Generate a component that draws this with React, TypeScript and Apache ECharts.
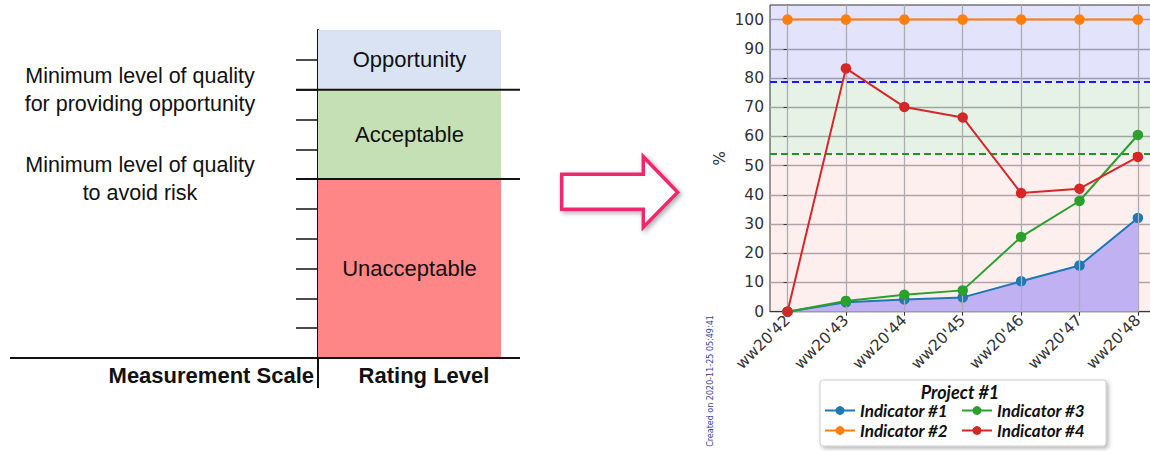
import React, { useEffect, useRef } from "react";
import * as echarts from "echarts";

// ---- right chart data ----
const categories = ["ww20'42", "ww20'43", "ww20'44", "ww20'45", "ww20'46", "ww20'47", "ww20'48"];
const indicator1 = [0, 3.2, 4.2, 4.9, 10.4, 15.8, 32.1];
const indicator2 = [100, 100, 100, 100, 100, 100, 100];
const indicator3 = [0, 3.7, 5.8, 7.3, 25.6, 37.9, 60.5];
const indicator4 = [0, 83.3, 70.1, 66.5, 40.6, 42.1, 53.0];
const opportunityLevel = 78.7;
const riskLevel = 54.1;
const yTicks = [0, 10, 20, 30, 40, 50, 60, 70, 80, 90, 100];
const legendLeft = ["Indicator #1", "Indicator #2"];
const legendRight = ["Indicator #3", "Indicator #4"];

// ---- left diagram data ----
const ratingLevels = ["Unacceptable", "Acceptable", "Opportunity"];
const ratingSpans = [6, 3, 2];
const ratingColors = ["#ff8686", "#c5e0b4", "#dae3f3"];
const scaleTicks = [1, 2, 3, 4, 5, 6, 7, 8, 9, 10];

const SANS = "'Liberation Sans', Arial, sans-serif";
const LEG = "Lato, 'Liberation Sans', sans-serif";

export default function App() {
  const ref = useRef<HTMLDivElement>(null);

  useEffect(() => {
    if (!ref.current) return;
    const chart = echarts.init(ref.current, null, { renderer: "svg" });

    const idx = categories.map((_, i) => i);
    const toPts = (arr: number[]) => arr.map((v, i) => [i, v]);
    const lineSeries = (name: string, data: number[], color: string, extra: any = {}) => ({
      name,
      type: "line",
      xAxisIndex: 0,
      yAxisIndex: 0,
      data: toPts(data),
      symbol: "circle",
      symbolSize: 10.5,
      showSymbol: true,
      itemStyle: { color },
      lineStyle: { color, width: 2 },
      z: 5,
      ...extra,
    });

    const legendText = { fontSize: 17, fontWeight: "bold", fontStyle: "italic", color: "#111", fontFamily: LEG };

    chart.setOption({
      animation: false,
      backgroundColor: "#ffffff",
      grid: [
        { left: 770, top: 5, width: 385.4, height: 306.7, outerBoundsMode: "none", containLabel: false, show: true, borderColor: "#333", borderWidth: 1, backgroundColor: "transparent" },
        { left: 318, top: 30, width: 183, height: 328, outerBoundsMode: "none", containLabel: false },
      ],
      xAxis: [
        {
          type: "value",
          gridIndex: 0,
          min: -0.3,
          max: 6.3,
          axisLine: { show: true, onZero: false, lineStyle: { color: "#333", width: 1 } },
          axisTick: { show: true, customValues: idx, length: 4, lineStyle: { color: "#333" } },
          axisLabel: {
            customValues: idx,
            formatter: (v: number) => categories[Math.round(v)] ?? "",
            rotate: 45,
            fontSize: 15.5,
            color: "#333",
            fontFamily: "'DejaVu Sans', sans-serif",
            margin: 6,
          },
          splitLine: { show: false },
        },
        {
          type: "category",
          gridIndex: 1,
          data: ["rating"],
          axisLine: { show: false },
          axisTick: { show: false },
          axisLabel: { show: false },
        },
      ],
      yAxis: [
        {
          type: "value",
          gridIndex: 0,
          min: 0,
          max: 105,
          interval: 10,
          name: "%",
          nameLocation: "middle",
          nameGap: 43,
          nameTextStyle: { fontSize: 15, color: "#333", fontFamily: "'DejaVu Sans', sans-serif" },
          axisLine: { show: true, lineStyle: { color: "#333", width: 1 } },
          axisTick: { show: true, customValues: yTicks, length: 4, lineStyle: { color: "#333" } },
          axisLabel: { customValues: yTicks, fontSize: 15.5, color: "#333", fontFamily: "'DejaVu Sans', sans-serif", margin: 6 },
          splitLine: { show: true, lineStyle: { color: "#acacb2", width: 1.3 } },
        },
        {
          type: "value",
          gridIndex: 1,
          min: 0,
          max: 11,
          interval: 1,
          axisLine: { show: true, lineStyle: { color: "#111", width: 2 } },
          axisTick: { show: true, customValues: scaleTicks, length: 22, lineStyle: { color: "#111", width: 1.5 } },
          axisLabel: { show: false },
          splitLine: { show: false },
        },
      ],
      legend: [
        {
          data: legendLeft,
          orient: "vertical",
          left: 819,
          top: 397,
          itemWidth: 30,
          itemHeight: 11,
          itemGap: 3,
          z: 60,
          textStyle: legendText,
          selectedMode: false,
        },
        {
          data: legendRight,
          orient: "vertical",
          left: 956,
          top: 397,
          itemWidth: 30,
          itemHeight: 11,
          itemGap: 3,
          z: 60,
          textStyle: legendText,
          selectedMode: false,
        },
      ],
      series: [
        {
          name: "bands",
          type: "line",
          xAxisIndex: 0,
          yAxisIndex: 0,
          data: [],
          z: 1,
          silent: true,
          markArea: {
            silent: true,
            data: [
              [{ yAxis: opportunityLevel, itemStyle: { color: "rgba(60,60,230,0.14)" } }, { yAxis: 105 }],
              [{ yAxis: riskLevel, itemStyle: { color: "rgba(40,140,40,0.11)" } }, { yAxis: opportunityLevel }],
              [{ yAxis: 0, itemStyle: { color: "rgba(240,80,80,0.09)" } }, { yAxis: riskLevel }],
            ],
          },
        },
        {
          name: "gridlines",
          type: "line",
          xAxisIndex: 0,
          yAxisIndex: 0,
          data: [],
          z: 2,
          silent: true,
          markLine: {
            silent: true,
            symbol: "none",
            label: { show: false },
            data: [
              ...idx.map((i) => ({ xAxis: i, lineStyle: { color: "#acacb2", width: 1.3, type: "solid" } })),
              { yAxis: opportunityLevel, lineStyle: { color: "#1a1aff", width: 2, type: [7, 4] } },
              { yAxis: riskLevel, lineStyle: { color: "#1f961f", width: 2, type: [7, 4] } },
            ],
          },
        },
        lineSeries("Indicator #1", indicator1, "#1f77b4", {
          areaStyle: { color: "#bfb1f2", opacity: 1, origin: "start" },
          z: 3,
        }),
        lineSeries("Indicator #2", indicator2, "#ff7f0e"),
        lineSeries("Indicator #3", indicator3, "#2ca02c"),
        lineSeries("Indicator #4", indicator4, "#d62728"),
        ...ratingLevels.map((name, i) => ({
          name,
          type: "bar",
          xAxisIndex: 1,
          yAxisIndex: 1,
          stack: "rating",
          barWidth: "100%",
          data: [ratingSpans[i]],
          itemStyle: { color: ratingColors[i] },
          label: {
            show: true,
            position: "inside",
            formatter: name,
            fontSize: 22,
            color: "#111",
            fontFamily: SANS,
          },
          silent: true,
        })),
      ],
    });

    // annotation elements placed through the diagram's own scale
    const py = (v: number) => chart.convertToPixel({ yAxisIndex: 1 }, v) as number;
    const y0 = py(0);
    const y6 = py(6);
    const y9 = py(9);
    const axisX = 318;
    const black = { stroke: "#111", lineWidth: 2 };

    chart.setOption({
      graphic: [
        { type: "line", shape: { x1: 10, y1: y0, x2: 520, y2: y0 }, style: black, z: 50 },
        { type: "line", shape: { x1: axisX, y1: y0, x2: axisX, y2: y0 + 30 }, style: black, z: 50 },
        { type: "line", shape: { x1: axisX - 22, y1: y6, x2: 520, y2: y6 }, style: black, z: 50 },
        { type: "line", shape: { x1: axisX - 22, y1: y9, x2: 520, y2: y9 }, style: black, z: 50 },
        {
          type: "text",
          x: 140,
          y: y9,
          style: { text: "Minimum level of quality\nfor providing opportunity", fontSize: 21.5, lineHeight: 28, fontFamily: SANS, fill: "#111", align: "center", verticalAlign: "middle" },
        },
        {
          type: "text",
          x: 140,
          y: y6,
          style: { text: "Minimum level of quality\nto avoid risk", fontSize: 21.5, lineHeight: 28, fontFamily: SANS, fill: "#111", align: "center", verticalAlign: "middle" },
        },
        {
          type: "text",
          x: 314,
          y: y0 + 17,
          style: { text: "Measurement Scale", fontSize: 22, fontWeight: "bold", fontFamily: SANS, fill: "#111", align: "right", verticalAlign: "middle" },
        },
        {
          type: "text",
          x: 424,
          y: y0 + 17,
          style: { text: "Rating Level", fontSize: 22, fontWeight: "bold", fontFamily: SANS, fill: "#111", align: "center", verticalAlign: "middle" },
        },
        {
          type: "polygon",
          shape: {
            points: [
              [561.7, 174.3], [643.3, 174.3], [643.3, 156.7], [677.7, 192.3],
              [643.3, 227.3], [643.3, 209.3], [561.7, 209.3],
            ],
          },
          style: { fill: "#ffffff", stroke: "#f2286e", lineWidth: 3.5, shadowBlur: 5, shadowColor: "rgba(0,0,0,0.35)", shadowOffsetX: 2, shadowOffsetY: 2 },
        },
        {
          type: "text",
          x: 710.7,
          y: 381,
          rotation: Math.PI / 2,
          style: { text: "Created on 2020-11-25 05:49:41", fontSize: 8, fontFamily: "'DejaVu Sans', sans-serif", fill: "#3a3aa8", align: "center", verticalAlign: "middle" },
        },
        {
          type: "rect",
          shape: { x: 820, y: 380, width: 286, height: 66, r: 3 },
          style: { fill: "#ffffff", stroke: "#cccccc", lineWidth: 1, shadowBlur: 4, shadowColor: "rgba(0,0,0,0.3)", shadowOffsetX: 2, shadowOffsetY: 2 },
          z: 0,
        },
        {
          type: "text",
          x: 960,
          y: 392,
          style: { text: "Project #1", fontSize: 18, fontWeight: "bold", fontStyle: "italic", fontFamily: LEG, fill: "#111", align: "center", verticalAlign: "middle" },
          z: 1,
        },
      ],
    });

    return () => chart.dispose();
  }, []);

  return <div ref={ref} style={{ position: "fixed", left: 0, top: 0, width: 1150, height: 451 }} />;
}
